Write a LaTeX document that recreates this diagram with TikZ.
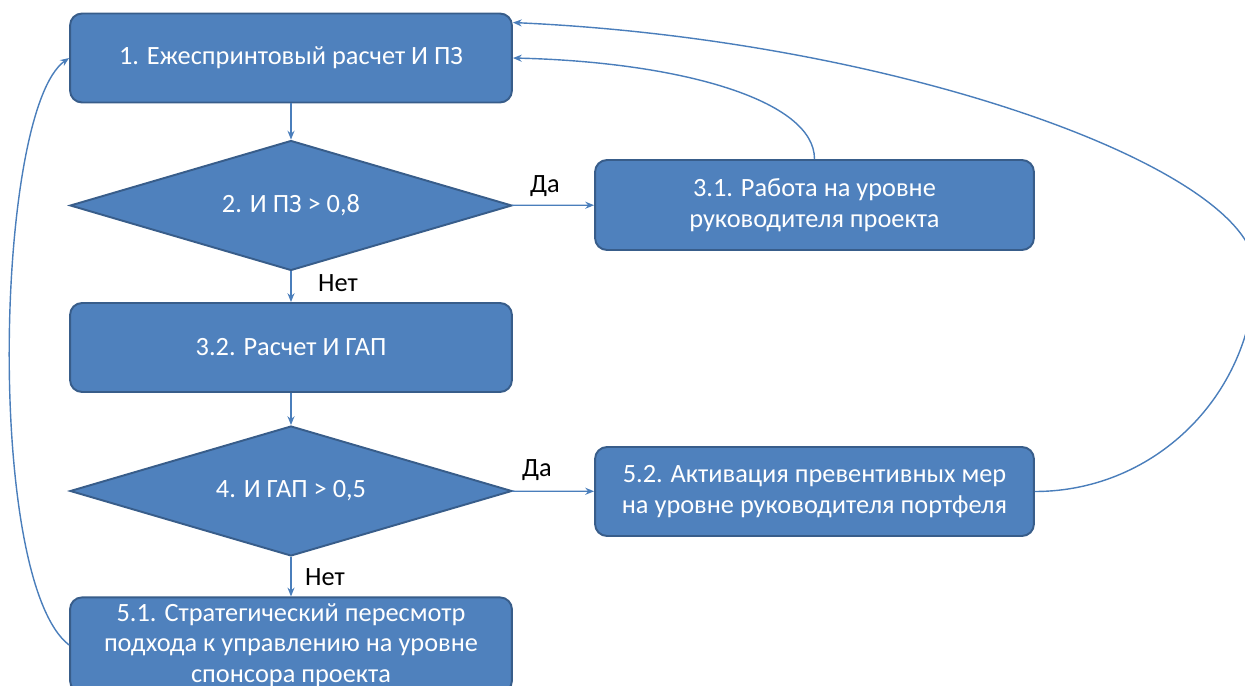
\documentclass[tikz,border=0pt]{standalone}
\usepackage{fontspec}
\setmainfont{Carlito}
\usetikzlibrary{shapes.geometric,arrows.meta}

\definecolor{boxfill}{HTML}{4F81BD}
\definecolor{boxline}{HTML}{385D8A}
\definecolor{arrline}{HTML}{4A7EBB}

\tikzset{
  blok/.style={draw=boxline, line width=1.1pt, fill=boxfill, rounded corners=0.24cm,
    minimum width=8.84cm, minimum height=1.78cm, text=white, align=center,
    font=\fontsize{15}{17.5}\selectfont},
  romb/.style={draw=boxline, line width=1.1pt, fill=boxfill, diamond, aspect=4,
    inner sep=0pt, minimum width=8.84cm, minimum height=2.6cm, text=white,
    font=\fontsize{15}{17.5}\selectfont},
  arr/.style={draw=arrline, line width=0.8pt, -{Stealth[length=5pt,width=4pt]}},
  lbl/.style={font=\fontsize{15}{17.5}\selectfont}
}

\begin{document}
\begin{tikzpicture}[x=0.02cm, y=-0.02cm]
    \useasboundingbox (0,0) rectangle (1245,686);

    % blocks of the scheme
    \node[blok] (b1) at (291,58) {1. Ежеспринтовый расчет И ПЗ};
    \node[romb] (d2) at (291,205.5) {2. И ПЗ > 0,8};
    \node[blok, minimum width=8.78cm, minimum height=1.8cm] (b31) at (814.5,205)
        {3.1. Работа на уровне\\руководителя проекта};
    \node[blok] (b32) at (291,347.5) {3.2. Расчет И ГАП};
    \node[romb] (d4) at (291,491) {4. И ГАП > 0,5};
    \node[blok, minimum width=8.78cm] (b52) at (814.5,491.5)
        {5.2. Активация превентивных мер\\на уровне руководителя портфеля};
    \node[blok, minimum height=1.84cm] (b51) at (291,645)
        {5.1. Стратегический пересмотр\\подхода к управлению на уровне\\спонсора проекта};

    % answers
    \node[lbl] (yes1) at (545,186) {Да};
    \node[lbl] (no1) at (338,283) {Нет};
    \node[lbl] (yes2) at (537,470) {Да};
    \node[lbl] (no2) at (325,577) {Нет};

    % straight arrows
    \draw[arr] (b1) -- (d2);
    \draw[arr] (d2) -- (b31);
    \draw[arr] (d2) -- (b32);
    \draw[arr] (b32) -- (d4);
    \draw[arr] (d4) -- (b52);
    \draw[arr] (d4) -- (b51);

    % returns to step 1
    \draw[arr] (b31.north) .. controls (814.5,100) and (680,62) .. (b1.east);
    \coordinate (turn) at (1255,270);
    \draw[arr] (b52.east) to[out=0, in=-90] (turn)
        .. controls (1255,170) and (900,40) .. ([yshift=-0.2cm]b1.north east);
    \draw[arr] (b51.west) .. controls (-15,580) and (-5,110) .. (b1.west);
\end{tikzpicture}
\end{document}
